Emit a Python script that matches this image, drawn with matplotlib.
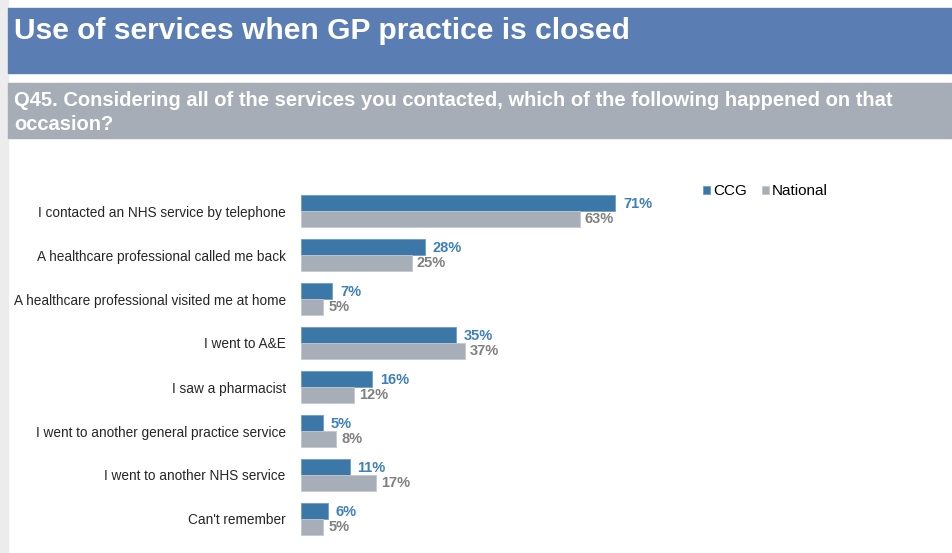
"""Use of services when GP practice is closed - grouped horizontal bars."""
import numpy as np
import matplotlib
matplotlib.use("Agg")
import matplotlib.pyplot as plt
from matplotlib.patches import Rectangle

plt.rcParams["font.family"] = ["Liberation Sans", "DejaVu Sans"]

categories = [
    "I contacted an NHS service by telephone",
    "A healthcare professional called me back",
    "A healthcare professional visited me at home",
    "I went to A&E",
    "I saw a pharmacist",
    "I went to another general practice service",
    "I went to another NHS service",
    "Can't remember",
]
ccg = [71, 28, 7, 35, 16, 5, 11, 6]
national = [63, 25, 5, 37, 12, 8, 17, 5]

CCG_COL = "#3b78a7"
NAT_COL = "#a7aeb7"
W, H = 953, 553

fig = plt.figure(figsize=(W / 100, H / 100), dpi=100)

# page decoration: left gray strip + banners
fig.patches.append(Rectangle((0, 0), 8 / W, 1, transform=fig.transFigure,
                             color="#ececec", zorder=0))
fig.patches.append(Rectangle((8 / W, 1 - 73 / H), 1, 65 / H, transform=fig.transFigure,
                             color="#5a7db4", zorder=1))
fig.patches.append(Rectangle((8 / W, 1 - 138 / H), 1, 55 / H, transform=fig.transFigure,
                             color="#a6adb6", zorder=1))
fig.text(14 / W, 1 - 31 / H, "Use of services when GP practice is closed",
         color="white", fontsize=21.6, fontweight="bold", va="center", ha="left")
fig.text(14 / W, 1 - 100 / H,
         "Q45. Considering all of the services you contacted, which of the following happened on that",
         color="white", fontsize=14.5, fontweight="bold", va="center", ha="left")
fig.text(14 / W, 1 - 124 / H, "occasion?",
         color="white", fontsize=14.5, fontweight="bold", va="center", ha="left")

# chart axes
ax = fig.add_axes([301 / W, 1 - 541 / H, 619 / W, 352 / H])
y = np.arange(len(categories))
h = 0.36
ax.barh(y - 0.18, ccg, height=h, color=CCG_COL, edgecolor="#6f9cc2",
        linewidth=0.6, label="CCG")
ax.barh(y + 0.18, national, height=h, color=NAT_COL, edgecolor="#c3c8ce",
        linewidth=0.6, label="National")
for yi, c, n in zip(y, ccg, national):
    ax.text(c + 1.8, yi - 0.17, f"{c}%", color="#3f7fb8", fontsize=10.5,
            fontweight="bold", va="center", ha="left")
    ax.text(n + 1.2, yi + 0.19, f"{n}%", color="#808080", fontsize=10.5,
            fontweight="bold", va="center", ha="left")

ax.set_xlim(0, 140)
ax.set_ylim(len(categories) - 0.5, -0.5)
ax.set_yticks(y)
ax.set_yticklabels(categories, fontsize=9.8, color="#262626")
ax.tick_params(axis="y", length=0, pad=11)
ax.set_xticks([])
for s in ax.spines.values():
    s.set_visible(False)

ax.legend(loc="upper left", bbox_to_anchor=((697 - 301) / 619, (541 - 178) / 352),
          ncol=2, frameon=False, fontsize=11, handlelength=0.45, handleheight=0.45,
          handletextpad=0.2, columnspacing=1.0, borderaxespad=0)

plt.savefig("out.png", dpi=100)
plt.close()
